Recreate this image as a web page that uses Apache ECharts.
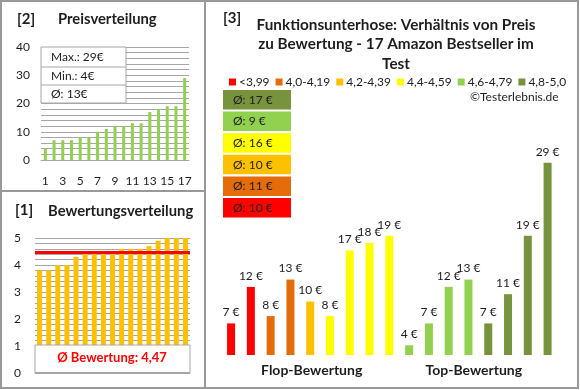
<!DOCTYPE html>
<html><head><meta charset="utf-8">
<script src="https://cdn.jsdelivr.net/npm/echarts@6/dist/echarts.min.js"></script>
<style>html,body{margin:0;padding:0;background:#fff}#c{width:580px;height:390px}</style>
</head><body><div id="c"></div>
<script>
// ---- data ----
const priceIdx = ['1','2','3','4','5','6','7','8','9','10','11','12','13','14','15','16','17'];
const pricesSorted = [4,7,7,7,8,8,10,11,12,12,13,13,17,18,19,19,29];
const priceStats = ['Max.: 29€','Min.: 4€','Ø: 13€'];
const ratingsSorted = [3.8,3.8,4.0,4.0,4.3,4.4,4.4,4.4,4.4,4.6,4.6,4.6,4.7,4.9,5.0,5.0,5.0];
const avgRating = 4.47;
const products = ['P1','P2','P3','P4','P5','P6','P7','P8','P9','P10','P11','P12','P13','P14','P15','P16','P17'];
const productPrices = [7,12,8,13,10,8,17,18,19,4,7,12,13,7,11,19,29];
const productClass = [0,0,1,1,2,3,3,3,3,4,4,4,4,5,5,5,5];
const classNames = ['<3,99','4,0-4,19','4,2-4,39','4,4-4,59','4,6-4,79','4,8-5,0'];
const classColors = ['#FF0000','#E46C0A','#FFC000','#FFFF00','#92D050','#77933C'];
const classAvgPrice = [10,11,10,16,9,17];
const groupNames = ['Flop-Bewertung','Top-Bewertung'];

const FONT = 'Lato';
const TXT = '#1e1e1e';
const GRID = '#A6A6A6';

const chart = echarts.init(document.getElementById('c'), null, {renderer:'canvas'});

const graphics = [];
// outer border and dividers
graphics.push({type:'rect', z:100, shape:{x:1,y:1,width:577,height:387}, style:{fill:null, stroke:'#999', lineWidth:2}});
graphics.push({type:'line', z:100, shape:{x1:205,y1:1,x2:205,y2:388}, style:{stroke:'#999', lineWidth:2}});
graphics.push({type:'line', z:100, shape:{x1:1,y1:191,x2:205,y2:191}, style:{stroke:'#999', lineWidth:2}});
// price stats box
graphics.push({type:'rect', z:100, shape:{x:41,y:47,width:85,height:56}, style:{fill:'#fff', stroke:GRID, lineWidth:1}});
graphics.push({type:'line', z:101, shape:{x1:41,y1:67,x2:126,y2:67}, style:{stroke:GRID, lineWidth:1}});
graphics.push({type:'line', z:101, shape:{x1:41,y1:85,x2:126,y2:85}, style:{stroke:GRID, lineWidth:1}});
[57,76,94].forEach((y,i)=>{
  graphics.push({type:'text', z:102, x:51, y:y, style:{text:priceStats[i], fill:TXT, font:'12px '+FONT, textVerticalAlign:'middle'}});
});
// rating box
graphics.push({type:'rect', z:100, shape:{x:35,y:345,width:155,height:27.5}, style:{fill:'#fff', stroke:GRID, lineWidth:1}});
graphics.push({type:'text', z:101, x:112, y:358, style:{text:'Ø Bewertung: '+avgRating.toFixed(2).replace('.',','), fill:'#FF0000', font:'bold 13px '+FONT, textAlign:'center', textVerticalAlign:'middle'}});
// average price boxes (top: best class)
for (let i=0;i<6;i++){
  const c = 5-i;
  const y = 90 + i*21.6;
  graphics.push({type:'rect', z:100, shape:{x:223,y:y,width:68,height:19.5}, style:{fill:classColors[c]}});
  graphics.push({type:'text', z:101, x:233, y:y+10, style:{text:'Ø: '+classAvgPrice[c]+' €', fill:TXT, font:'12px '+FONT, textVerticalAlign:'middle'}});
}

const tb = (size)=>({fontSize:size, fontWeight:'bold', color:TXT, fontFamily:FONT});

const option = {
  animation:false,
  textStyle:{fontFamily:FONT},
  title:[
    {text:'[2]', left:17, top:12, padding:0, textStyle:tb(15)},
    {text:'Preisverteilung', left:58, top:12, padding:0, textStyle:tb(14.8)},
    {text:'[1]', left:15, top:203, padding:0, textStyle:tb(15)},
    {text:'Bewertungsverteilung', left:48, top:204, padding:0, textStyle:tb(14.8)},
    {text:'[3]', left:223, top:11, padding:0, textStyle:tb(15)},
    {text:'Funktionsunterhose: Verhältnis von Preis\nzu Bewertung - 17 Amazon Bestseller im\nTest', left:396, top:15, padding:0, textAlign:'center',
      textStyle:Object.assign(tb(15.3), {lineHeight:19.5})},
    {text:'©Testerlebnis.de', left:470, top:91, padding:0, textStyle:{fontSize:12, fontWeight:'normal', color:TXT, fontFamily:FONT}}
  ],
  legend:{
    data:classNames, left:224, top:71, itemWidth:7, itemHeight:7, itemGap:6, icon:'rect', selectedMode:false,
    textStyle:{fontSize:12, color:TXT, fontFamily:FONT, padding:[0,0,0,-2]}
  },
  grid:[
    {left:41, width:148, top:47, height:113},
    {left:35, width:155, top:238, height:135},
    {left:221.6, width:336.3, top:155.5, height:199.5}
  ],
  xAxis:[
    {gridIndex:0, type:'category', data:priceIdx, axisLine:{lineStyle:{color:GRID}}, axisTick:{show:false},
      axisLabel:{interval:1, margin:15, fontSize:12, color:TXT, fontFamily:FONT}},
    {gridIndex:1, type:'category', data:priceIdx, axisLine:{lineStyle:{color:GRID}}, axisTick:{show:false}, axisLabel:{show:false}},
    {gridIndex:2, type:'category', data:products, show:false},
    {gridIndex:2, type:'category', data:groupNames, position:'bottom', axisLine:{show:false}, axisTick:{show:false},
      axisLabel:{margin:8, fontSize:14, fontWeight:'bold', color:TXT, fontFamily:FONT,
        formatter:(v,i)=> i===0 ? '{a|'+v+'}' : '{b|'+v+'}',
        rich:{a:{padding:[0,0,0,12], fontSize:14, fontWeight:'bold', color:TXT, fontFamily:FONT},
              b:{fontSize:14, fontWeight:'bold', color:TXT, fontFamily:FONT}}}}
  ],
  yAxis:[
    {gridIndex:0, type:'value', min:0, max:40, interval:2, axisLine:{show:false}, axisTick:{show:false},
      splitLine:{lineStyle:{color:GRID, width:1}},
      axisLabel:{margin:11, fontSize:12, color:TXT, fontFamily:FONT, formatter:v=> (Math.abs(v%10)<1e-6 ? String(v) : '')}},
    {gridIndex:1, type:'value', min:0, max:5, interval:0.2, axisLine:{show:false}, axisTick:{show:false},
      splitLine:{lineStyle:{color:GRID, width:1}},
      axisLabel:{margin:14, fontSize:12, color:TXT, fontFamily:FONT, formatter:v=> (Math.abs(v-Math.round(v))<1e-6 ? String(Math.round(v)) : '')}},
    {gridIndex:2, type:'value', min:2.67, max:30, show:false, splitLine:{show:false}}
  ],
  series:[
    {type:'bar', xAxisIndex:0, yAxisIndex:0, data:pricesSorted, barWidth:3, itemStyle:{color:'#92D050'}},
    {type:'bar', xAxisIndex:1, yAxisIndex:1, data:ratingsSorted, barWidth:5, itemStyle:{color:'#FFC000'},
      markLine:{silent:true, symbol:'none', label:{show:false}, lineStyle:{color:'#FF0000', width:3, type:'solid'}, data:[{yAxis:avgRating}]}},
    {type:'bar', xAxisIndex:2, yAxisIndex:2, barWidth:8,
      data:productPrices.map((v,i)=>({value:v, itemStyle:{color:classColors[productClass[i]]}})),
      label:{show:true, position:'top', distance:5, fontSize:12, color:TXT, fontFamily:FONT, formatter:p=>p.value+' €'}}
  ].concat(classNames.map((n,i)=>({type:'bar', name:n, xAxisIndex:2, yAxisIndex:2, data:[], itemStyle:{color:classColors[i]}}))),
  graphic:graphics
};
chart.setOption(option);
</script>
</body></html>
